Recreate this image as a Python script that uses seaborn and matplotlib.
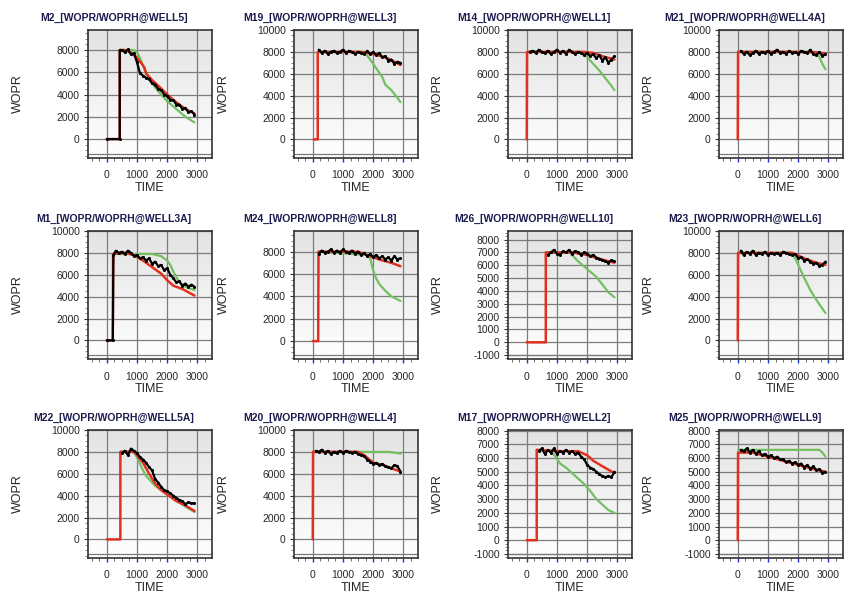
import numpy as np
import pandas as pd
import matplotlib
matplotlib.use("Agg")
import matplotlib.pyplot as plt
from matplotlib.colors import LinearSegmentedColormap
from matplotlib.ticker import MultipleLocator, FixedLocator, FuncFormatter
import seaborn as sns

# ---------------- data ----------------
TITLES = ["M2_[WOPR/WOPRH@WELL5]", "M19_[WOPR/WOPRH@WELL3]", "M14_[WOPR/WOPRH@WELL1]", "M21_[WOPR/WOPRH@WELL4A]",
          "M1_[WOPR/WOPRH@WELL3A]", "M24_[WOPR/WOPRH@WELL8]", "M26_[WOPR/WOPRH@WELL10]", "M23_[WOPR/WOPRH@WELL6]",
          "M22_[WOPR/WOPRH@WELL5A]", "M20_[WOPR/WOPRH@WELL4]", "M17_[WOPR/WOPRH@WELL2]", "M25_[WOPR/WOPRH@WELL9]"]

# M2 / WELL5
m2_red_t = [0, 430, 430, 600, 800, 1000, 1150, 1250, 1300, 1500, 1700, 2000, 2300, 2600, 2900]
m2_red_v = [0, 0, 8000, 8000, 7800, 7300, 6800, 6400, 5900, 5300, 4800, 4000, 3300, 2700, 2300]
m2_grn_t = [430, 900, 1000, 1100, 1200, 1300, 1500, 1700, 2000, 2300, 2600, 2900]
m2_grn_v = [8000, 8000, 7800, 7300, 6600, 5900, 5000, 4300, 3400, 2700, 2000, 1500]
m2_blk_t = [0, 430, 430, 500, 600, 700, 800, 900, 1000, 1100, 1200, 1300, 1400, 1500, 1600, 1700, 1800,
            1900, 2000, 2100, 2200, 2300, 2400, 2500, 2600, 2700, 2800, 2900]
m2_blk_v = [0, 0, 8000, 8000, 7800, 8050, 7600, 7700, 6900, 5900, 5700, 5500, 5400, 5000, 4900, 4500, 4400,
            4000, 3900, 3500, 3500, 3100, 3100, 2700, 2800, 2400, 2500, 2200]

# M19 / WELL3
m19_red_t = [30, 165, 165, 1600, 2000, 2400, 2700, 2900]
m19_red_v = [0, 0, 8000, 8000, 7800, 7500, 7100, 6800]
m19_grn_t = [200, 1700, 1900, 2100, 2300, 2400, 2600, 2800, 2900]
m19_grn_v = [8000, 8000, 7300, 6500, 5700, 5000, 4500, 3800, 3400]
m19_blk_t = [200, 300, 400, 500, 600, 700, 800, 900, 1000, 1100, 1200, 1300, 1400, 1500, 1600, 1700, 1800,
             1900, 2000, 2100, 2200, 2300, 2400, 2500, 2600, 2700, 2800, 2900]
m19_blk_v = [8200, 7900, 8100, 7800, 8000, 8100, 7900, 8000, 8200, 7900, 8100, 8000, 7800, 8000, 7900, 7800, 8100,
             7800, 8000, 7700, 7900, 7500, 7600, 7200, 7300, 6900, 7100, 7000]

# M14 / WELL1
m14_red_t = [0, 10, 1900, 2200, 2500, 2900]
m14_red_v = [0, 8000, 8000, 7900, 7600, 7300]
m14_grn_t = [10, 1800, 2000, 2200, 2400, 2600, 2800, 2900]
m14_grn_v = [8000, 8000, 7500, 6900, 6300, 5600, 4900, 4500]
m14_blk_t = [100, 200, 300, 400, 500, 600, 700, 800, 900, 1000, 1100, 1200, 1300, 1400, 1500, 1600, 1700,
             1800, 1900, 2000, 2100, 2200, 2300, 2400, 2500, 2600, 2700, 2800, 2900]
m14_blk_v = [8000, 8100, 7900, 8200, 8000, 7900, 8100, 7800, 8000, 8200, 7900, 8100, 7800, 8200, 8000, 7800, 8000,
             7900, 7700, 7900, 7600, 7800, 7400, 7700, 7200, 7500, 7000, 7300, 7600]

# M21 / WELL4A
m21_red_t = [0, 10, 1000, 2000, 2600, 2900]
m21_red_v = [0, 8000, 8000, 8000, 7950, 7850]
m21_grn_t = [10, 2600, 2700, 2800, 2900]
m21_grn_v = [8000, 8000, 7500, 6900, 6400]
m21_blk_t = [100, 200, 300, 400, 500, 600, 700, 800, 900, 1000, 1100, 1200, 1300, 1400, 1500, 1600, 1700,
             1800, 1900, 2000, 2100, 2200, 2300, 2400, 2500, 2600, 2700, 2800, 2900]
m21_blk_v = [8100, 7800, 8000, 7700, 7900, 8100, 7800, 8000, 7900, 8100, 7800, 8000, 8200, 7900, 8000, 7800, 8100,
             7900, 8000, 7800, 8100, 8000, 7900, 8200, 7800, 7700, 8000, 7600, 7800]

# M1 / WELL3A
m1_red_t = [0, 200, 210, 600, 900, 1200, 1500, 1800, 2000, 2200, 2500, 2700, 2900]
m1_red_v = [0, 0, 7900, 8000, 7800, 7300, 6700, 6100, 5500, 5000, 4700, 4400, 4100]
m1_grn_t = [210, 1000, 1500, 1800, 2000, 2100, 2200, 2300, 2400, 2600, 2900]
m1_grn_v = [7900, 7900, 7900, 7700, 7300, 6900, 6300, 5800, 5300, 4900, 4600]
m1_blk_t = [0, 200, 220, 300, 400, 500, 600, 700, 800, 900, 1000, 1100, 1200, 1300, 1400, 1500, 1600, 1700,
            1800, 1900, 2000, 2100, 2200, 2300, 2400, 2500, 2600, 2700, 2800, 2900]
m1_blk_v = [0, 0, 7800, 8200, 8000, 8100, 7900, 8200, 8000, 7700, 7800, 7500, 7600, 7300, 7500, 7000, 7200, 6800,
            6900, 6400, 6600, 6000, 5700, 5300, 5400, 5000, 5200, 4900, 5100, 4900]

# M24 / WELL8
m24_red_t = [0, 180, 190, 1500, 1800, 2200, 2600, 2900]
m24_red_v = [0, 0, 8000, 8000, 7700, 7300, 7000, 6700]
m24_grn_t = [190, 1800, 1900, 2000, 2100, 2200, 2400, 2600, 2900]
m24_grn_v = [8000, 7700, 7400, 6300, 5600, 5100, 4500, 4000, 3600]
m24_blk_t = [200, 300, 400, 500, 600, 700, 800, 900, 1000, 1100, 1200, 1300, 1400, 1500, 1600, 1700, 1800,
             1900, 2000, 2100, 2200, 2300, 2400, 2500, 2600, 2700, 2800, 2900]
m24_blk_v = [7800, 8100, 7900, 8000, 8200, 7900, 8100, 7900, 8200, 8000, 7900, 8100, 7800, 8000, 7700, 7900, 7600,
             7800, 7500, 7700, 7400, 7600, 7300, 7500, 7200, 7600, 7300, 7400]

# M26 / WELL10
m26_red_t = [0, 630, 630, 1500, 2000, 2400, 2900]
m26_red_v = [0, 0, 7000, 7000, 6800, 6500, 6200]
m26_grn_t = [630, 1400, 1500, 1700, 1800, 2000, 2300, 2500, 2700, 2900]
m26_grn_v = [7000, 7000, 6800, 6300, 6100, 5700, 5100, 4500, 3900, 3500]
m26_blk_t = [700, 800, 900, 1000, 1100, 1200, 1300, 1400, 1500, 1600, 1700, 1800, 1900, 2000, 2100, 2200,
             2300, 2400, 2500, 2600, 2700, 2800, 2900]
m26_blk_v = [6800, 7000, 7200, 6900, 6800, 7100, 7000, 7200, 6900, 7100, 7000, 6800, 7000, 6900, 6700, 6800,
             6600, 6500, 6400, 6300, 6200, 6400, 6300]

# M23 / WELL6
m23_red_t = [0, 10, 1800, 2200, 2600, 2900]
m23_red_v = [0, 8000, 8000, 7500, 7100, 6900]
m23_grn_t = [10, 1800, 1900, 2000, 2200, 2400, 2600, 2800, 2900]
m23_grn_v = [8000, 8000, 7500, 6900, 5700, 4600, 3700, 2900, 2500]
m23_blk_t = [100, 200, 300, 400, 500, 600, 700, 800, 900, 1000, 1100, 1200, 1300, 1400, 1500, 1600, 1700,
             1800, 1900, 2000, 2100, 2200, 2300, 2400, 2500, 2600, 2700, 2800, 2900]
m23_blk_v = [8200, 7800, 8100, 7900, 8200, 7800, 8000, 7900, 8100, 7800, 8000, 7900, 8000, 7800, 8100, 8000, 7900,
             7800, 7900, 7500, 7600, 7300, 7400, 7200, 7000, 7100, 6800, 6900, 7200]

# M22 / WELL5A
m22_red_t = [0, 450, 450, 900, 1000, 1200, 1400, 1600, 1800, 2000, 2300, 2600, 2900]
m22_red_v = [0, 0, 8000, 8000, 7700, 7000, 6000, 5100, 4500, 4100, 3500, 3100, 2600]
m22_grn_t = [450, 900, 1000, 1100, 1200, 1300, 1400, 1600, 1800, 2000, 2300, 2600, 2900]
m22_grn_v = [8000, 8000, 7500, 6900, 6300, 5800, 5500, 4900, 4500, 4100, 3600, 3000, 2500]
m22_blk_t = [500, 600, 700, 800, 900, 1000, 1100, 1200, 1300, 1400, 1500, 1600, 1700, 1800, 1900, 2000,
             2100, 2200, 2300, 2400, 2500, 2600, 2700, 2800, 2900]
m22_blk_v = [7900, 8100, 7700, 8300, 8100, 7900, 7500, 7300, 7000, 6600, 6300, 5500, 5200, 4800, 4500, 4400,
             4200, 4000, 3800, 3600, 3500, 3200, 3400, 3300, 3300]

# M20 / WELL4
m20_red_t = [0, 10, 1500, 1700, 2000, 2300, 2600, 2900]
m20_red_v = [0, 8000, 8000, 7700, 7000, 6800, 6500, 6200]
m20_grn_t = [10, 2500, 2900]
m20_grn_v = [8000, 8000, 7850]
m20_blk_t = [100, 200, 300, 400, 500, 600, 700, 800, 900, 1000, 1100, 1200, 1300, 1400, 1500, 1600, 1700,
             1800, 1900, 2000, 2100, 2200, 2300, 2400, 2500, 2600, 2700, 2800, 2900]
m20_blk_v = [8100, 8000, 8200, 7900, 8100, 7800, 8000, 7900, 8100, 7900, 8100, 8000, 7900, 8000, 7800, 7700, 7600,
             7300, 7100, 6900, 7000, 6800, 6900, 6700, 6600, 6500, 6800, 6700, 6200]

# M17 / WELL2
m17_red_t = [0, 330, 330, 1000, 1700, 2000, 2200, 2500, 2900]
m17_red_v = [0, 0, 6600, 6500, 6500, 6200, 5800, 5400, 4900]
m17_grn_t = [330, 800, 950, 1100, 1300, 1600, 1900, 2100, 2300, 2500, 2700, 2900]
m17_grn_v = [6600, 6500, 6100, 5600, 5300, 4700, 4100, 3600, 3000, 2600, 2200, 2000]
m17_blk_t = [400, 500, 600, 700, 800, 900, 1000, 1100, 1200, 1300, 1400, 1500, 1600, 1700, 1800, 1900, 2000,
             2100, 2200, 2300, 2400, 2500, 2600, 2700, 2800, 2900]
m17_blk_v = [6500, 6700, 6300, 6600, 6400, 6700, 6300, 6500, 6400, 6600, 6400, 6500, 6300, 6400, 6100, 5900, 5500,
             5300, 5200, 5000, 4800, 4700, 4600, 4700, 4600, 5000]

# M25 / WELL9
m25_red_t = [0, 10, 500, 1000, 1500, 2000, 2500, 2900]
m25_red_v = [0, 6400, 6400, 6100, 5800, 5500, 5200, 5000]
m25_grn_t = [10, 2700, 2800, 2900]
m25_grn_v = [6600, 6600, 6400, 6100]
m25_blk_t = [100, 200, 300, 400, 500, 600, 700, 800, 900, 1000, 1100, 1200, 1300, 1400, 1500, 1600, 1700,
             1800, 1900, 2000, 2100, 2200, 2300, 2400, 2500, 2600, 2700, 2800, 2900]
m25_blk_v = [6600, 6500, 6700, 6400, 6600, 6300, 6500, 6200, 6300, 6100, 6200, 6000, 6100, 5900, 5900, 5700, 5800,
             5600, 5700, 5500, 5600, 5300, 5500, 5200, 5400, 5100, 5200, 4900, 5000]

X_TICKS = [0, 1000, 2000, 3000]
Y_TICKS_10K = [0, 2000, 4000, 6000, 8000, 10000]
Y_TICKS_8K = [-1000, 0, 1000, 2000, 3000, 4000, 5000, 6000, 7000, 8000]

# ---------------- style ----------------
sns.set_theme(style="white")
plt.rcParams["font.family"] = ["Liberation Sans", "DejaVu Sans"]

RED = "#e2301f"
GREEN = "#72c062"
BLACK = "#000000"
TITLE_C = "#1b1b4e"

panels = [
    (m2_red_t, m2_red_v, m2_grn_t, m2_grn_v, m2_blk_t, m2_blk_v, (-1700, 9800), "10k"),
    (m19_red_t, m19_red_v, m19_grn_t, m19_grn_v, m19_blk_t, m19_blk_v, (-1700, 10000), "10k"),
    (m14_red_t, m14_red_v, m14_grn_t, m14_grn_v, m14_blk_t, m14_blk_v, (-1700, 10000), "10k"),
    (m21_red_t, m21_red_v, m21_grn_t, m21_grn_v, m21_blk_t, m21_blk_v, (-1700, 10000), "10k"),
    (m1_red_t, m1_red_v, m1_grn_t, m1_grn_v, m1_blk_t, m1_blk_v, (-1700, 10000), "10k"),
    (m24_red_t, m24_red_v, m24_grn_t, m24_grn_v, m24_blk_t, m24_blk_v, (-1600, 9850), "10k"),
    (m26_red_t, m26_red_v, m26_grn_t, m26_grn_v, m26_blk_t, m26_blk_v, (-1300, 8670), "8k"),
    (m23_red_t, m23_red_v, m23_grn_t, m23_grn_v, m23_blk_t, m23_blk_v, (-1700, 10000), "10k"),
    (m22_red_t, m22_red_v, m22_grn_t, m22_grn_v, m22_blk_t, m22_blk_v, (-1700, 10000), "10k"),
    (m20_red_t, m20_red_v, m20_grn_t, m20_grn_v, m20_blk_t, m20_blk_v, (-1700, 10000), "10k"),
    (m17_red_t, m17_red_v, m17_grn_t, m17_grn_v, m17_blk_t, m17_blk_v, (-1300, 8050), "8k"),
    (m25_red_t, m25_red_v, m25_grn_t, m25_grn_v, m25_blk_t, m25_blk_v, (-1300, 8050), "8k"),
]

W, H = 844, 594
fig = plt.figure(figsize=(W / 100, H / 100), dpi=100)
fig.patch.set_facecolor("white")

col_left = [88, 294, 508, 719]
row_top = [30, 231, 430]
aw, ah = 124, 128

grad_cmap = LinearSegmentedColormap.from_list("bg", ["#ffffff", "#e3e3e3"])
grad = np.linspace(0, 1, 256).reshape(-1, 1)
int_fmt = FuncFormatter(lambda v, p: f"{int(round(v))}")

for i, (rt, rv, gt, gv, bt, bv, ylim, scale) in enumerate(panels):
    r, c = divmod(i, 4)
    left = col_left[c] / W
    bottom = 1 - (row_top[r] + ah) / H
    ax = fig.add_axes([left, bottom, aw / W, ah / H])

    ax.imshow(grad, cmap=grad_cmap, aspect="auto", extent=[0, 1, 0, 1],
              transform=ax.transAxes, origin="lower", zorder=0)

    sns.lineplot(x=gt, y=gv, ax=ax, color=GREEN, lw=1.6, estimator=None, sort=False, zorder=3)
    sns.lineplot(x=rt, y=rv, ax=ax, color=RED, lw=1.8, estimator=None, sort=False, zorder=4)
    sns.lineplot(x=bt, y=bv, ax=ax, color=BLACK, lw=1.6, estimator=None, sort=False, zorder=5,
                 marker="o", markersize=2.2, markeredgewidth=0)

    ax.set_xlim(-620, 3480)
    ax.set_ylim(*ylim)

    ax.xaxis.set_major_locator(FixedLocator(X_TICKS))
    ax.xaxis.set_minor_locator(MultipleLocator(250))
    if scale == "10k":
        ax.yaxis.set_major_locator(FixedLocator(Y_TICKS_10K))
        ax.yaxis.set_minor_locator(MultipleLocator(500))
    else:
        ax.yaxis.set_major_locator(FixedLocator(Y_TICKS_8K))
        ax.yaxis.set_minor_locator(MultipleLocator(250))
    ax.yaxis.set_major_formatter(int_fmt)
    ax.xaxis.set_major_formatter(int_fmt)

    ax.grid(True, which="major", color="#7c7c7c", lw=0.9, zorder=1)
    ax.set_axisbelow(True)
    ax.plot([0, 1], [0.035, 0.035], transform=ax.transAxes, color="#7c7c7c", lw=0.9, zorder=1)

    ax.tick_params(axis="x", which="major", direction="out", length=3, width=1.0, color="#2233cc",
                   labelsize=7.5, pad=6, bottom=True)
    ax.tick_params(axis="x", which="minor", direction="out", length=2, width=0.6, color="#555555", bottom=True)
    ax.tick_params(axis="y", which="major", direction="out", length=3, width=0.8, color="#333333",
                   labelsize=7.5, pad=3, left=True)
    ax.tick_params(axis="y", which="minor", direction="out", length=2, width=0.5, color="#555555", left=True)

    for s in ax.spines.values():
        s.set_color("#333333")
        s.set_linewidth(1.2)
        s.set_visible(True)

    ax.set_xlabel("TIME", fontsize=9)
    ax.set_ylabel("WOPR", fontsize=9)
    ax.xaxis.set_label_coords(0.5, -0.185)
    ax.yaxis.set_label_coords(-0.52, 0.5)

    ax.text(0.21, 1.095, TITLES[i], transform=ax.transAxes, ha="center", va="center",
            fontsize=7.5, fontweight="bold", color=TITLE_C)

fig.savefig("out.png", dpi=100, facecolor="white")
